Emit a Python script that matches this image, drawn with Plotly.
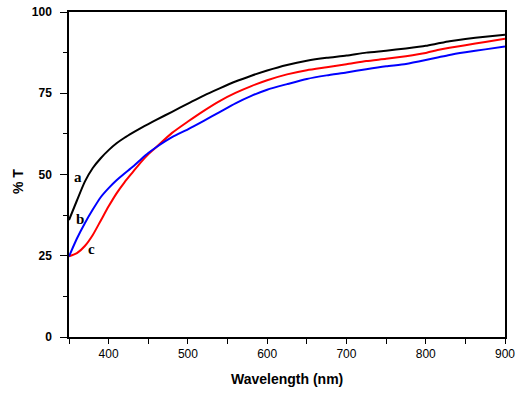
import plotly.graph_objects as go

wavelength = [350, 360, 370, 380, 390, 400, 410, 420, 430, 440, 450, 460, 480, 500, 520, 540, 560, 580,
              600, 625, 650, 675, 700, 725, 750, 775, 800, 815, 830, 850, 875, 900]
trans_a = [36.0, 42.0, 47.8, 52.0, 55.0, 57.5, 59.6, 61.3, 62.8, 64.2, 65.5, 66.8, 69.3, 71.8, 74.3, 76.5, 78.6, 80.4,
           82.0, 83.7, 85.0, 85.9, 86.6, 87.5, 88.1, 88.8, 89.6, 90.3, 91.0, 91.7, 92.4, 93.0]
trans_b = [24.8, 30.3, 35.0, 39.2, 43.0, 45.8, 48.2, 50.3, 52.3, 54.5, 56.6, 58.4, 61.5, 63.9, 66.5, 69.2, 71.9, 74.2,
           76.1, 77.8, 79.4, 80.5, 81.4, 82.4, 83.3, 84.0, 85.2, 86.0, 86.8, 87.6, 88.5, 89.4]
trans_c = [24.8, 25.8, 28.0, 31.4, 35.8, 40.2, 44.2, 47.6, 50.6, 53.6, 56.2, 58.4, 62.8, 66.3, 69.6, 72.6, 75.1, 77.2,
           79.0, 80.8, 82.1, 83.0, 83.9, 84.9, 85.6, 86.4, 87.4, 88.3, 89.0, 89.8, 90.8, 91.8]

series_names = ["a", "b", "c"]
label_x = [361.7, 363.9, 378.4]
label_y = [49.1, 36.2, 27.1]

x_tickvals = [350, 400, 450, 500, 550, 600, 650, 700, 750, 800, 850, 900]
x_ticktext = ["", "400", "", "500", "", "600", "", "700", "", "800", "", "900"]
y_tickvals = [0, 25, 50, 75, 100]
y_minorvals = [12.5, 37.5, 62.5, 87.5]

fig = go.Figure()
for name, ys, col in [("a", trans_a, "#000000"), ("c", trans_c, "#FF0000"), ("b", trans_b, "#0000FF")]:
    fig.add_trace(go.Scatter(x=wavelength, y=ys, mode="lines", name=name,
                             line=dict(color=col, width=2, shape="spline", smoothing=0.6),
                             showlegend=False, hoverinfo="skip"))

for n, lx, ly in zip(series_names, label_x, label_y):
    fig.add_annotation(x=lx, y=ly, text="<b>%s</b>" % n, showarrow=False,
                       font=dict(family="Liberation Serif, Times New Roman, serif", size=15, color="#000000"),
                       xanchor="center", yanchor="middle")

fig.add_annotation(xref="paper", yref="paper", x=0.5, y=-0.13, text="<b>Wavelength (nm)</b>",
                   showarrow=False, yanchor="middle", xanchor="center",
                   font=dict(family="Liberation Sans, Arial, sans-serif", size=14, color="#000000"))
fig.add_annotation(xref="paper", yref="paper", x=-0.117, y=0.48, text="<b>% T</b>",
                   showarrow=False, textangle=-90, xanchor="center", yanchor="middle",
                   font=dict(family="Liberation Sans, Arial, sans-serif", size=14, color="#000000"))

fig.update_xaxes(range=[350, 900], tickmode="array", tickvals=x_tickvals, ticktext=x_ticktext,
                 ticks="outside", ticklen=5, tickwidth=1, tickcolor="#000000",
                 showline=True, linecolor="#000000", linewidth=1.5, mirror=True,
                 showgrid=False, zeroline=False, automargin=False,
                 tickfont=dict(family="Liberation Sans, Arial, sans-serif", size=12, color="#000000"))
fig.update_yaxes(range=[0, 100], tickmode="array", tickvals=y_tickvals,
                 ticks="outside", ticklen=7, tickwidth=1, tickcolor="#000000",
                 minor=dict(tickmode="array", tickvals=y_minorvals, ticks="outside",
                            ticklen=4, tickwidth=1, tickcolor="#000000", showgrid=False),
                 showline=True, linecolor="#000000", linewidth=1.5, mirror=True,
                 showgrid=False, zeroline=False, ticklabelstandoff=6, automargin=False,
                 tickfont=dict(family="Liberation Sans, Arial, sans-serif", size=12, color="#000000", weight="bold"))

fig.update_layout(width=522, height=395, margin=dict(l=69, r=17, t=12, b=58),
                  paper_bgcolor="white", plot_bgcolor="white")

# remove the browser's default 8px body margin so the figure fills the window exactly
fig.write_html("out.html", config={"displayModeBar": False},
               post_script="document.body.style.margin='0';document.body.style.overflow='hidden';")
